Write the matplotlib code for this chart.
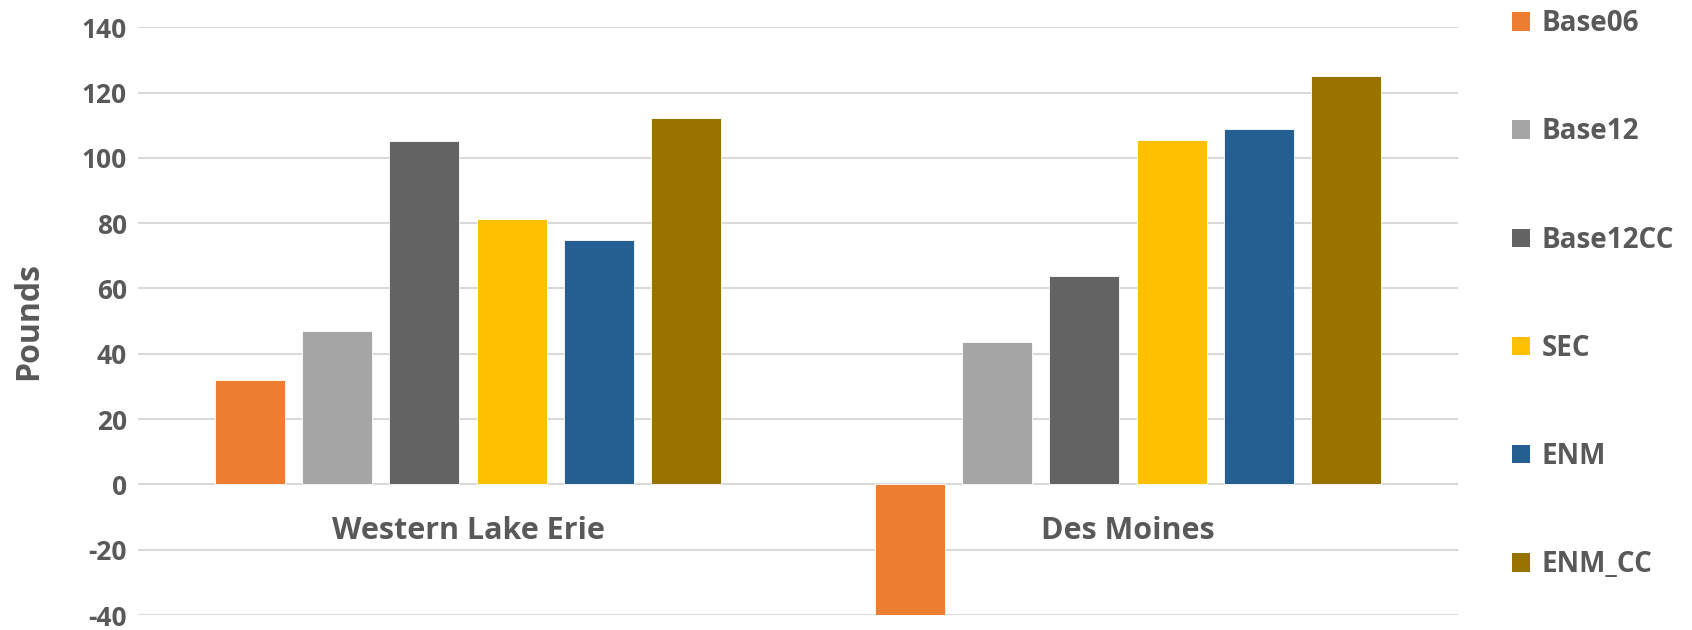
import matplotlib.pyplot as plt
import numpy as np
from matplotlib.patches import Patch

plt.rcParams["font.family"] = ["Open Sans", "DejaVu Sans"]

# Loads by region and scenario (pounds)
regions = ["Western Lake Erie", "Des Moines"]
scenarios = ["Base06", "Base12", "Base12CC", "SEC", "ENM", "ENM_CC"]
base06 = [32.0, -40.0]
base12 = [47.0, 43.7]
base12cc = [105.2, 63.7]
sec = [81.4, 105.6]
enm = [74.8, 108.9]
enm_cc = [112.3, 125.2]
yticks = [-40, -20, 0, 20, 40, 60, 80, 100, 120, 140]

colors = ["#ED7D31", "#A5A5A5", "#636363", "#FFC000", "#255E91", "#997300"]
text_color = "#595959"
series = [base06, base12, base12cc, sec, enm, enm_cc]

fig = plt.figure(figsize=(16.92, 6.30), dpi=100)
ax = fig.add_axes([0.0816, 0.0238, 0.78, 0.933])

x = np.arange(len(regions))
pitch = 0.1323
width = 0.106
for i, (vals, c) in enumerate(zip(series, colors)):
    ax.bar(x + (i - 2.5) * pitch, vals, width, color=c,
           edgecolor="white", linewidth=0.6, zorder=3)

ax.set_xlim(-0.5, 1.5)
ax.set_ylim(-40, 140)
ax.set_yticks(yticks)
ax.set_yticklabels([str(v) for v in yticks], fontsize=19,
                   fontweight="bold", color=text_color)
ax.set_xticks([])
ax.tick_params(axis="y", length=0, pad=8)
ax.grid(axis="y", color="#D9D9D9", linewidth=1.5, zorder=0)
for s in ax.spines.values():
    s.set_visible(False)

# category names sit just under the zero line
for xi, name in zip(x, regions):
    ax.annotate(name, (xi, 0), xytext=(0, -47), textcoords="offset pixels",
                ha="center", va="center", fontsize=22, fontweight="bold",
                color=text_color)

ax.set_ylabel("Pounds", fontsize=23, fontweight="bold", color=text_color,
              labelpad=26)

handles = [Patch(facecolor=c, label=s) for c, s in zip(colors, scenarios)]
leg = fig.legend(handles=handles, loc="upper left",
                 bbox_to_anchor=(0.879, 1.025), frameon=False,
                 fontsize=20, handlelength=0.65, handleheight=0.65,
                 handletextpad=0.4, labelspacing=2.85)
for t in leg.get_texts():
    t.set_color(text_color)
    t.set_fontweight("bold")

fig.savefig("out.png", dpi=100)
